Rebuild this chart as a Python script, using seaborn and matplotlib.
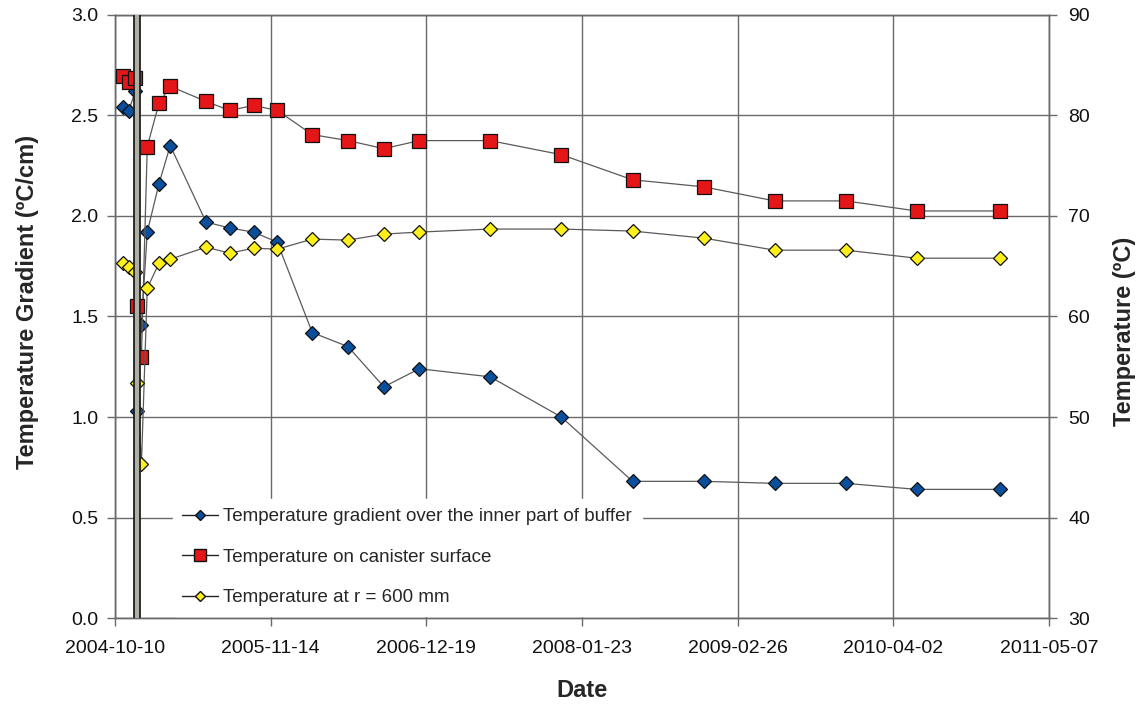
import matplotlib
matplotlib.use("Agg")
import matplotlib.pyplot as plt
from matplotlib.lines import Line2D
import seaborn as sns
import pandas as pd

# Measurement dates
dates = [
    "2004-10-30", "2004-11-14", "2004-12-01", "2004-12-06", "2004-12-17",
    "2005-01-01", "2005-01-31", "2005-03-01", "2005-06-01", "2005-08-01",
    "2005-10-01", "2005-12-01", "2006-03-01", "2006-06-01", "2006-09-01",
    "2006-12-01", "2007-06-01", "2007-12-01", "2008-06-01", "2008-12-01",
    "2009-06-01", "2009-12-01", "2010-06-01", "2011-01-01",
]

# Temperature gradient over the inner part of buffer (ºC/cm)
gradient = [
    2.54, 2.52, 2.62, 1.03, 1.46, 1.92, 2.16, 2.35, 1.97, 1.94,
    1.92, 1.87, 1.42, 1.35, 1.15, 1.24, 1.20, 1.00, 0.68, 0.68,
    0.67, 0.67, 0.64, 0.64,
]

# Temperature on canister surface (ºC)
canister = [
    83.9, 83.3, 83.7, 61.0, 56.0, 76.9, 81.2, 82.9, 81.4, 80.5,
    81.0, 80.5, 78.1, 77.5, 76.7, 77.5, 77.5, 76.1, 73.6, 72.9,
    71.5, 71.5, 70.5, 70.5,
]

# Temperature at r = 600 mm (ºC)
r600 = [
    65.3, 64.9, 64.4, 53.4, 45.3, 62.8, 65.3, 65.7, 66.9, 66.3,
    66.8, 66.7, 67.7, 67.6, 68.2, 68.4, 68.7, 68.7, 68.5, 67.8,
    66.6, 66.6, 65.8, 65.8,
]

series_labels = [
    "Temperature gradient over the inner part of buffer",
    "Temperature on canister surface",
    "Temperature at r = 600 mm",
]

tick_dates = ["2004-10-10", "2005-11-14", "2006-12-19", "2008-01-23",
              "2009-02-26", "2010-04-02", "2011-05-07"]
event_date = "2004-12-06"

left_ticks = [0.0, 0.5, 1.0, 1.5, 2.0, 2.5, 3.0]
right_ticks = [30, 40, 50, 60, 70, 80, 90]

sns.set_theme(style="white")
plt.rcParams["font.family"] = ["Liberation Sans", "DejaVu Sans"]

x = pd.to_datetime(dates)

fig = plt.figure(figsize=(11.36, 7.06), dpi=100)
ax = fig.add_axes([0.1012, 0.1246, 0.8222, 0.8542])
ax2 = ax.twinx()

line_col = "#5a5a5a"
grid_col = "#6a6a6a"
blue, red, yellow = "#0a4f9c", "#e41617", "#fff01c"
edge = "#111111"

sns.lineplot(x=x, y=gradient, ax=ax, color=line_col, linewidth=0.9,
             marker="D", markersize=7.5, markerfacecolor=blue,
             markeredgecolor=edge, markeredgewidth=0.9, zorder=3)
sns.lineplot(x=x, y=canister, ax=ax2, color=line_col, linewidth=0.9,
             marker="s", markersize=10.2, markerfacecolor=red,
             markeredgecolor=edge, markeredgewidth=0.9, zorder=3)
sns.lineplot(x=x, y=r600, ax=ax2, color=line_col, linewidth=0.9,
             marker="D", markersize=7.5, markerfacecolor=yellow,
             markeredgecolor=edge, markeredgewidth=0.9, zorder=4)

# Event marker: outlined light band across the full height
ev = pd.Timestamp(event_date)
ax2.axvline(ev, color="#1e1e1e", linewidth=5.6, zorder=6)
ax2.axvline(ev, color="#c9cabb", linewidth=3.0, alpha=0.85, zorder=7)

xt = pd.to_datetime(tick_dates)
ax.set_xlim(xt[0], xt[-1])
ax.set_xticks(xt)
ax.set_xticklabels(tick_dates)

ax.set_ylim(0, 3)
ax.set_yticks(left_ticks)
ax.set_yticklabels([f"{v:.1f}" for v in left_ticks])
ax2.set_ylim(30, 90)
ax2.set_yticks(right_ticks)
ax2.set_yticklabels([str(v) for v in right_ticks])

ax.grid(True, axis="both", color=grid_col, linewidth=1.0)
ax.set_axisbelow(True)
ax2.grid(False)

for a in (ax, ax2):
    for s in a.spines.values():
        s.set_color(grid_col)
        s.set_linewidth(1.0)

ax.tick_params(axis="both", which="major", direction="out", length=6,
               width=1.0, color=grid_col, labelsize=14, labelcolor="#111111",
               bottom=True, left=True)
ax.tick_params(axis="x", pad=10)
ax.tick_params(axis="y", pad=6)
ax2.tick_params(axis="y", direction="out", length=6, width=1.0,
                color=grid_col, labelsize=14, labelcolor="#111111",
                right=True, pad=8)

ax.set_xlabel("Date", fontsize=17, fontweight="bold", labelpad=16)
ax.set_ylabel("Temperature Gradient (ºC/cm)", fontsize=17,
              fontweight="bold", va="center")
ax2.set_ylabel("Temperature (ºC)", fontsize=17, fontweight="bold",
               rotation=90, va="center")
ax.yaxis.set_label_coords(-0.094, 0.524)
ax2.yaxis.set_label_coords(1.081, 0.476)

handles = [
    Line2D([], [], color="#222222", linewidth=1.0, marker="D", markersize=5.6,
           markerfacecolor=blue, markeredgecolor=edge),
    Line2D([], [], color="#222222", linewidth=1.0, marker="s", markersize=8.5,
           markerfacecolor=red, markeredgecolor=edge),
    Line2D([], [], color="#222222", linewidth=1.0, marker="D", markersize=5.6,
           markerfacecolor=yellow, markeredgecolor=edge),
]
leg = ax2.legend(handles, series_labels, loc="lower left",
                 bbox_to_anchor=(0.062, 0.004), borderaxespad=0.0,
                 frameon=True, fontsize=13.5,
                 handlelength=1.9, handletextpad=0.3, labelspacing=1.25,
                 borderpad=0.5, facecolor="white", edgecolor="white",
                 framealpha=1.0)
leg.set_zorder(2.5)

fig.savefig("out.png", dpi=100)
